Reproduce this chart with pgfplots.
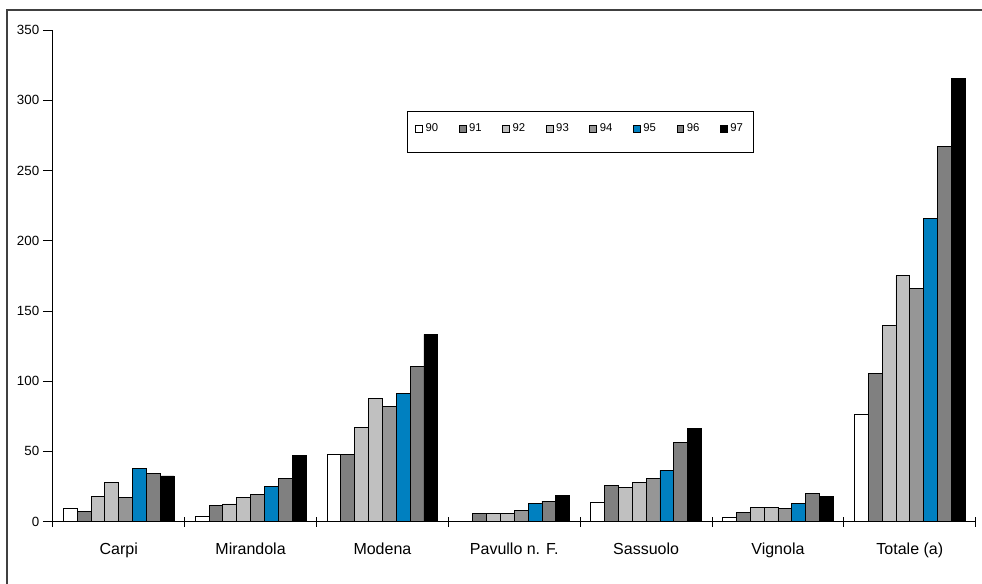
\documentclass[border=0pt]{standalone}
\usepackage{pgfplots}
\pgfplotsset{compat=1.18}
\usepackage{pgfplotstable}
\usepackage{fontspec}
\setmainfont{Liberation Sans}
\definecolor{cA}{HTML}{808080}
\definecolor{cB}{HTML}{C0C0C0}
\definecolor{cC}{HTML}{969696}
\definecolor{cBlue}{HTML}{0080C0}

\pgfplotstableread{
x  y90   y91   y92   y93   y94   y95   y96   y97
0  9.3   6.9   18    27.8  17    38    34.4  32.5
1  3.6   11.4  12.5  17    19    25    30.4  46.8
2  47.8  47.8  66.8  87.4  82.2  91    110.7 133.3
3  nan   5.5   5.5   5.5   7.8   12.6  14.5  18.8
4  13.3  25.4  24.5  27.6  30.9  36.4  56.5  66.5
5  3.3   6.6   10.2  10.2  9     13    20    17.8
6  76.5  105.3 139.5 175   166.3 215.7 266.8 315.3
}\datatable

\begin{document}
\begin{tikzpicture}[x=0.75pt,y=0.75pt]
\useasboundingbox (0,0) rectangle (982,583);
\draw[line width=1pt, draw=black!75] (7,-20) -- (7,573) -- (1000,573);
\begin{axis}[
  at={(39.6pt,46.1pt)}, anchor=south west,
  scale only axis, width=692.2pt, height=368.6pt,
  xmin=-0.5, xmax=6.5, ymin=0, ymax=350,
  axis x line*=bottom, axis y line*=left,
  axis line style={-, line width=0.6pt},
  ybar=0pt, bar width=0.105,
  xtick={-0.5,0.5,...,6.5},
  x tick label as interval,
  xticklabels={Carpi,Mirandola,Modena,Pavullo n. F.,Sassuolo,Vignola,Totale (a)},
  xtick align=center,
  ytick align=outside,
  ytick={0,50,...,350},
  major tick length=7.5pt,
  tick style={line width=0.6pt, black},
  /pgf/number format/assume math mode=true,
  yticklabel style={font=\fontsize{10}{12}\selectfont, inner sep=2.5pt},
  xticklabel style={font=\fontsize{12}{14}\selectfont, yshift=-9pt},
  every axis plot/.append style={draw=black, line width=0.6pt},
  legend columns=8,
  legend style={at={(0.3837,0.835)}, anchor=north west, draw=black, line width=0.6pt,
    font=\fontsize{8.5}{10}\selectfont, inner xsep=6pt, inner ysep=7pt,
    /tikz/every even column/.append style={column sep=13.5pt}},
  legend image code/.code={\draw[#1,draw=black,line width=0.5pt] (0pt,-2.6pt) rectangle (5.2pt,2.6pt);},
]
\addplot[fill=white] table[x=x,y=y90]{\datatable};
\addlegendentry{90}
\addplot[fill=cA] table[x=x,y=y91]{\datatable};
\addlegendentry{91}
\addplot[fill=cB] table[x=x,y=y92]{\datatable};
\addlegendentry{92}
\addplot[fill=cB] table[x=x,y=y93]{\datatable};
\addlegendentry{93}
\addplot[fill=cC] table[x=x,y=y94]{\datatable};
\addlegendentry{94}
\addplot[fill=cBlue] table[x=x,y=y95]{\datatable};
\addlegendentry{95}
\addplot[fill=cA] table[x=x,y=y96]{\datatable};
\addlegendentry{96}
\addplot[fill=black] table[x=x,y=y97]{\datatable};
\addlegendentry{97}
\addlegendimage{empty legend}
\addlegendentry{}
\end{axis}
\end{tikzpicture}
\end{document}
